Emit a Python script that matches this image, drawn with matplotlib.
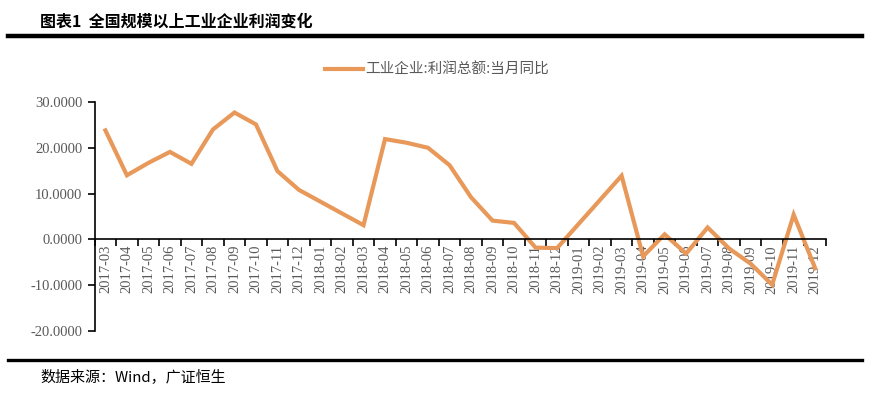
import numpy as np
import matplotlib
matplotlib.use('Agg')
import matplotlib.pyplot as plt
from matplotlib.lines import Line2D

# monthly data, Jan/Feb released combined -> missing
months = ['2017-03', '2017-04', '2017-05', '2017-06', '2017-07', '2017-08',
          '2017-09', '2017-10', '2017-11', '2017-12', '2018-01', '2018-02',
          '2018-03', '2018-04', '2018-05', '2018-06', '2018-07', '2018-08',
          '2018-09', '2018-10', '2018-11', '2018-12', '2019-01', '2019-02',
          '2019-03', '2019-04', '2019-05', '2019-06', '2019-07', '2019-08',
          '2019-09', '2019-10', '2019-11', '2019-12']
profit_yoy = [23.8, 14.0, 16.7, 19.1, 16.5, 24.0,
              27.7, 25.1, 14.9, 10.8, None, None,
              3.1, 21.9, 21.1, 20.0, 16.2, 9.2,
              4.1, 3.6, -1.8, -1.9, None, None,
              13.9, -3.7, 1.1, -3.1, 2.6, -2.0,
              -5.3, -9.9, 5.4, -6.3]
yticks = [30, 20, 10, 0, -10, -20]

title = '图表1  全国规模以上工业企业利润变化'
source = '数据来源：Wind，广证恒生'
series_name = '工业企业:利润总额:当月同比'

cjk = ['Noto Sans CJK SC', 'DejaVu Sans']
plt.rcParams['font.family'] = ['Liberation Serif', 'Noto Sans CJK SC']
line_color = '#E8995A'
grey = '#595959'

fig = plt.figure(figsize=(8.74, 3.99), dpi=100)
ax = fig.add_axes([0.1083, 0.1704, 0.8367, 0.5740])

xs = [i for i, v in enumerate(profit_yoy) if v is not None]
ys = [v for v in profit_yoy if v is not None]
ax.plot(xs, ys, color=line_color, lw=3, solid_joinstyle='miter')

ax.set_xlim(-0.5, len(months) - 0.5)
ax.set_ylim(-20, 30)
ax.set_yticks(yticks)
ax.set_yticklabels(['%.4f' % v for v in yticks])

# category ticks sit between months, labels at the month centres
ax.set_xticks(np.arange(-0.5, len(months)))
ax.set_xticklabels([])
ax.set_xticks(np.arange(len(months)), minor=True)
ax.set_xticklabels(months, minor=True)
ax.tick_params(axis='x', which='major', length=5, width=1.2, direction='out')
ax.tick_params(axis='x', which='minor', length=0, pad=4, labelrotation=90,
               labelsize=10.5, labelcolor=grey)
ax.tick_params(axis='y', length=5, width=1.2, direction='out', pad=4,
               labelsize=10.5, labelcolor=grey)

ax.spines['top'].set_visible(False)
ax.spines['right'].set_visible(False)
ax.spines['bottom'].set_position(('data', 0))
ax.spines['bottom'].set_linewidth(1.2)
ax.spines['left'].set_linewidth(1.2)

leg = fig.legend([Line2D([0], [0], color=line_color, lw=3)], [series_name],
                 loc='center', bbox_to_anchor=(0.50, 0.825), frameon=False,
                 prop={'family': cjk, 'size': 10.5}, handlelength=2.6,
                 handletextpad=0.2)
for t in leg.get_texts():
    t.set_color(grey)

# header / footer rules
fig.add_artist(Line2D([0.009, 0.986], [0.910, 0.910], color='black', lw=3.2))
fig.add_artist(Line2D([0.009, 0.986], [0.097, 0.097], color='black', lw=2.4))

fig.text(0.046, 0.945, title, family=cjk, fontsize=11.5, weight='bold',
         va='center', ha='left')
fig.text(0.046, 0.057, source, family=cjk, fontsize=10.8, va='center', ha='left')

fig.savefig('out.png', dpi=100, facecolor='white')
